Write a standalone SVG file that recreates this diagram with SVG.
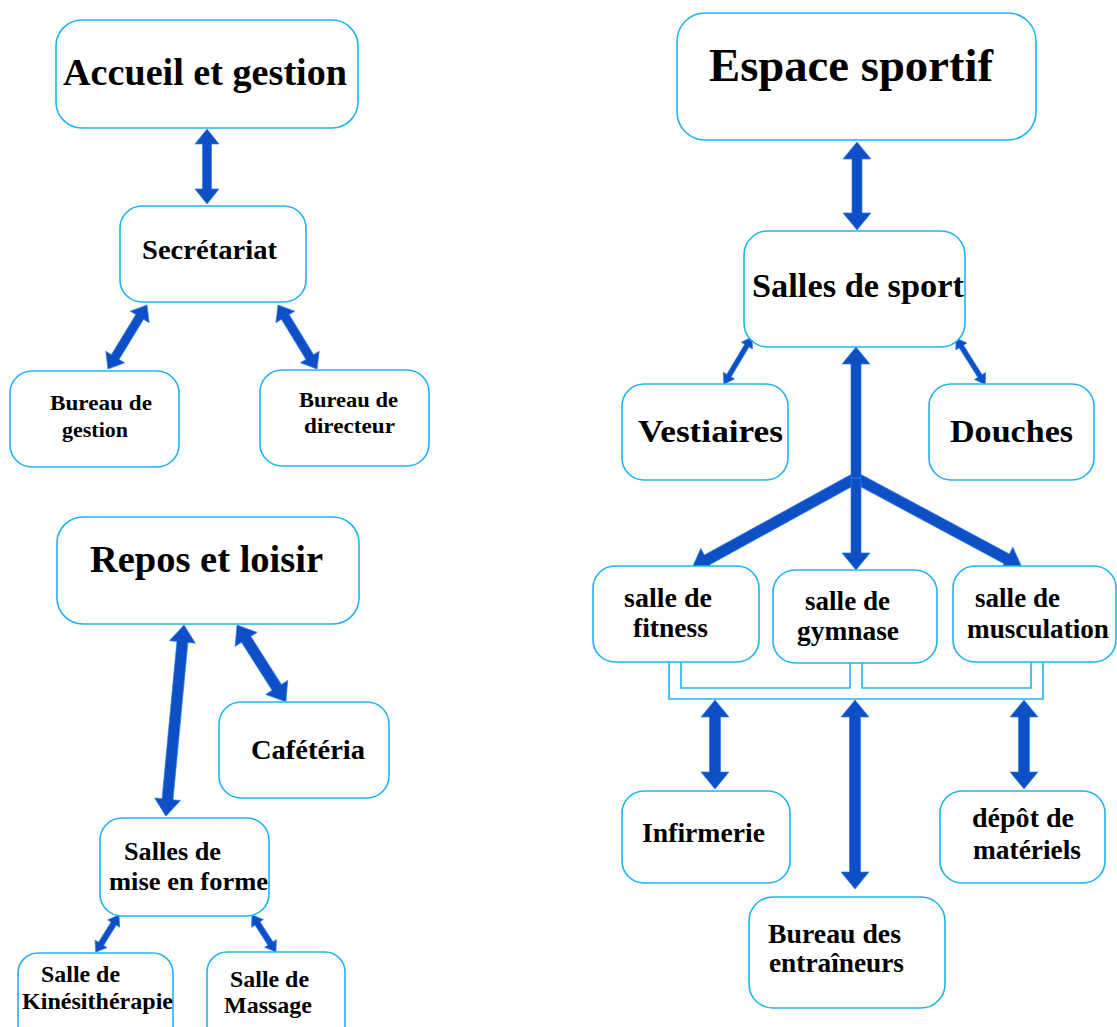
<svg xmlns="http://www.w3.org/2000/svg" width="1117" height="1027" viewBox="0 0 1117 1027">
  <style>
    .box { fill: #ffffff; stroke: #1fb4f0; stroke-width: 1.6; }
    .link { fill: none; stroke: #1fb4f0; stroke-width: 1.6; }
    .arrow { fill: #0e4fc6; stroke: #2f80e8; stroke-width: 0.7; stroke-linejoin: miter; }
    text { font-family: "Liberation Serif", "Times New Roman", serif; font-weight: bold; fill: #000000; }
    .t38 { font-size: 38px; }
    .t46 { font-size: 46px; }
    .t34 { font-size: 34px; }
    .t31 { font-size: 31px; }
    .t28 { font-size: 28px; }
    .t27 { font-size: 27px; }
    .t26 { font-size: 26px; }
    .t24 { font-size: 24px; }
    .t22 { font-size: 22px; }
  </style>

  <rect width="1117" height="1027" fill="#ffffff"/>

  <!-- connectors -->
  <g id="connectors">
    <!-- bracket joining the three halls -->
    <path class="link" d="M669,662 V699 H1043 V662"/>
    <path class="link" d="M681,662 V688 H850 V663"/>
    <path class="link" d="M862,663 V688 H1031 V662"/>

    <!-- left column: reception -->
    <path class="arrow" transform="translate(207,129) rotate(90)" d="M0,0 L15,-12 L15,-4.5 L60,-4.5 L60,-12 L75,0 L60,12 L60,4.5 L15,4.5 L15,12 Z"/>
    <path class="arrow" transform="translate(147,305) rotate(121.4)" d="M0,0 L14,-11 L14,-4.5 L61,-4.5 L61,-11 L75,0 L61,11 L61,4.5 L14,4.5 L14,11 Z"/>
    <path class="arrow" transform="translate(278,305) rotate(58.6)" d="M0,0 L14,-11 L14,-4.5 L61,-4.5 L61,-11 L75,0 L61,11 L61,4.5 L14,4.5 L14,11 Z"/>

    <!-- left column: rest and leisure -->
    <path class="arrow" transform="translate(184,625) rotate(95.4)" d="M0,0 L17,-13 L17,-5.5 L175,-5.5 L175,-13 L192,0 L175,13 L175,5.5 L17,5.5 L17,13 Z"/>
    <path class="arrow" transform="translate(237,625) rotate(57.5)" d="M0,0 L17,-13 L17,-5.5 L74,-5.5 L74,-13 L91,0 L74,13 L74,5.5 L17,5.5 L17,13 Z"/>
    <path class="arrow" transform="translate(119,915) rotate(121.9)" d="M0,0 L10,-7 L10,-3 L34,-3 L34,-7 L44,0 L34,7 L34,3 L10,3 L10,7 Z"/>
    <path class="arrow" transform="translate(252,915) rotate(57)" d="M0,0 L10,-7 L10,-3 L34,-3 L34,-7 L44,0 L34,7 L34,3 L10,3 L10,7 Z"/>

    <!-- right column: sports area -->
    <path class="arrow" transform="translate(857,142) rotate(90)" d="M0,0 L17,-14 L17,-5 L71,-5 L71,-14 L88,0 L71,14 L71,5 L17,5 L17,14 Z"/>
    <path class="arrow" transform="translate(752,337) rotate(120.8)" d="M0,0 L10,-6.5 L10,-2.5 L45,-2.5 L45,-6.5 L55,0 L45,6.5 L45,2.5 L10,2.5 L10,6.5 Z"/>
    <path class="arrow" transform="translate(956,338) rotate(57.8)" d="M0,0 L10,-6.5 L10,-2.5 L45,-2.5 L45,-6.5 L55,0 L45,6.5 L45,2.5 L10,2.5 L10,6.5 Z"/>

    <!-- three-way fork from the sports halls -->
    <path class="arrow" transform="translate(856,478) rotate(151.2)" d="M0,-5.5 L170,-5.5 L170,-13 L187,0 L170,13 L170,5.5 L0,5.5 Z"/>
    <path class="arrow" transform="translate(856,478) rotate(28.2)" d="M0,-5.5 L171,-5.5 L171,-13 L188,0 L171,13 L171,5.5 L0,5.5 Z"/>
    <path class="arrow" transform="translate(856,478) rotate(90)" d="M0,-5 L75,-5 L75,-14 L92,0 L75,14 L75,5 L0,5 Z"/>
    <path class="arrow" transform="translate(856,478) rotate(-90)" d="M0,-5 L114,-5 L114,-14 L131,0 L114,14 L114,5 L0,5 Z"/>

    <!-- services below the halls -->
    <path class="arrow" transform="translate(715,700) rotate(90)" d="M0,0 L17,-14 L17,-5.5 L72,-5.5 L72,-14 L89,0 L72,14 L72,5.5 L17,5.5 L17,14 Z"/>
    <path class="arrow" transform="translate(855,700) rotate(90)" d="M0,0 L17,-14 L17,-5.5 L172,-5.5 L172,-14 L189,0 L172,14 L172,5.5 L17,5.5 L17,14 Z"/>
    <path class="arrow" transform="translate(1024,700) rotate(90)" d="M0,0 L17,-14 L17,-5.5 L72,-5.5 L72,-14 L89,0 L72,14 L72,5.5 L17,5.5 L17,14 Z"/>
  </g>

  <!-- left column nodes -->
  <g id="accueil">
    <rect class="box" x="56" y="20" width="302" height="108" rx="26"/>
    <text class="t38" x="63" y="85" textLength="284" lengthAdjust="spacingAndGlyphs">Accueil et gestion</text>
  </g>
  <g id="secretariat">
    <rect class="box" x="120" y="206" width="186" height="96" rx="22"/>
    <text class="t28" x="142" y="259" textLength="135" lengthAdjust="spacingAndGlyphs">Secrétariat</text>
  </g>
  <g id="bureau-gestion">
    <rect class="box" x="10" y="371" width="169" height="96" rx="22"/>
    <text class="t22" x="50" y="410" textLength="102" lengthAdjust="spacingAndGlyphs">Bureau de</text>
    <text class="t22" x="62" y="437" textLength="66" lengthAdjust="spacingAndGlyphs">gestion</text>
  </g>
  <g id="bureau-directeur">
    <rect class="box" x="260" y="370" width="169" height="96" rx="22"/>
    <text class="t22" x="299" y="407" textLength="99" lengthAdjust="spacingAndGlyphs">Bureau de</text>
    <text class="t22" x="304" y="433" textLength="91" lengthAdjust="spacingAndGlyphs">directeur</text>
  </g>
  <g id="repos">
    <rect class="box" x="57" y="517" width="302" height="107" rx="26"/>
    <text class="t38" x="90" y="572" textLength="233" lengthAdjust="spacingAndGlyphs">Repos et loisir</text>
  </g>
  <g id="cafeteria">
    <rect class="box" x="219" y="702" width="170" height="96" rx="22"/>
    <text class="t28" x="251" y="759" textLength="114" lengthAdjust="spacingAndGlyphs">Cafétéria</text>
  </g>
  <g id="salles-mise-en-forme">
    <rect class="box" x="100" y="818" width="169" height="98" rx="22"/>
    <text class="t26" x="124" y="860" textLength="97" lengthAdjust="spacingAndGlyphs">Salles de</text>
    <text class="t26" x="109" y="890" textLength="159" lengthAdjust="spacingAndGlyphs">mise en forme</text>
  </g>
  <g id="kinesitherapie">
    <rect class="box" x="18" y="953" width="155" height="100" rx="20"/>
    <text class="t24" x="41" y="982" textLength="79" lengthAdjust="spacingAndGlyphs">Salle de</text>
    <text class="t24" x="22" y="1009" textLength="151" lengthAdjust="spacingAndGlyphs">Kinésithérapie</text>
  </g>
  <g id="massage">
    <rect class="box" x="207" y="952" width="138" height="100" rx="20"/>
    <text class="t24" x="230" y="987" textLength="79" lengthAdjust="spacingAndGlyphs">Salle de</text>
    <text class="t24" x="224" y="1013" textLength="88" lengthAdjust="spacingAndGlyphs">Massage</text>
  </g>

  <!-- right column nodes -->
  <g id="espace-sportif">
    <rect class="box" x="677" y="13" width="359" height="127" rx="28"/>
    <text class="t46" x="709" y="81" textLength="284" lengthAdjust="spacingAndGlyphs">Espace sportif</text>
  </g>
  <g id="salles-de-sport">
    <rect class="box" x="744" y="231" width="221" height="116" rx="24"/>
    <text class="t34" x="752" y="297" textLength="212" lengthAdjust="spacingAndGlyphs">Salles de sport</text>
  </g>
  <g id="vestiaires">
    <rect class="box" x="622" y="384" width="166" height="96" rx="22"/>
    <text class="t31" x="638" y="442" textLength="145" lengthAdjust="spacingAndGlyphs">Vestiaires</text>
  </g>
  <g id="douches">
    <rect class="box" x="929" y="384" width="165" height="96" rx="22"/>
    <text class="t31" x="950" y="442" textLength="123" lengthAdjust="spacingAndGlyphs">Douches</text>
  </g>
  <g id="fitness">
    <rect class="box" x="593" y="566" width="166" height="96" rx="22"/>
    <text class="t27" x="624" y="607" textLength="88" lengthAdjust="spacingAndGlyphs">salle de</text>
    <text class="t27" x="633" y="637" textLength="75" lengthAdjust="spacingAndGlyphs">fitness</text>
  </g>
  <g id="gymnase">
    <rect class="box" x="773" y="570" width="164" height="93" rx="22"/>
    <text class="t27" x="805" y="610" textLength="85" lengthAdjust="spacingAndGlyphs">salle de</text>
    <text class="t27" x="797" y="640" textLength="102" lengthAdjust="spacingAndGlyphs">gymnase</text>
  </g>
  <g id="musculation">
    <rect class="box" x="953" y="566" width="163" height="96" rx="22"/>
    <text class="t27" x="975" y="607" textLength="85" lengthAdjust="spacingAndGlyphs">salle de</text>
    <text class="t27" x="967" y="638" textLength="142" lengthAdjust="spacingAndGlyphs">musculation</text>
  </g>
  <g id="infirmerie">
    <rect class="box" x="622" y="791" width="168" height="92" rx="22"/>
    <text class="t27" x="642" y="842" textLength="123" lengthAdjust="spacingAndGlyphs">Infirmerie</text>
  </g>
  <g id="depot-materiels">
    <rect class="box" x="940" y="791" width="165" height="92" rx="22"/>
    <text class="t27" x="972" y="827" textLength="102" lengthAdjust="spacingAndGlyphs">dépôt de</text>
    <text class="t27" x="973" y="859" textLength="108" lengthAdjust="spacingAndGlyphs">matériels</text>
  </g>
  <g id="bureau-entraineurs">
    <rect class="box" x="749" y="897" width="196" height="111" rx="24"/>
    <text class="t27" x="768" y="943" textLength="133" lengthAdjust="spacingAndGlyphs">Bureau des</text>
    <text class="t27" x="769" y="972" textLength="135" lengthAdjust="spacingAndGlyphs">entraîneurs</text>
  </g>
</svg>
